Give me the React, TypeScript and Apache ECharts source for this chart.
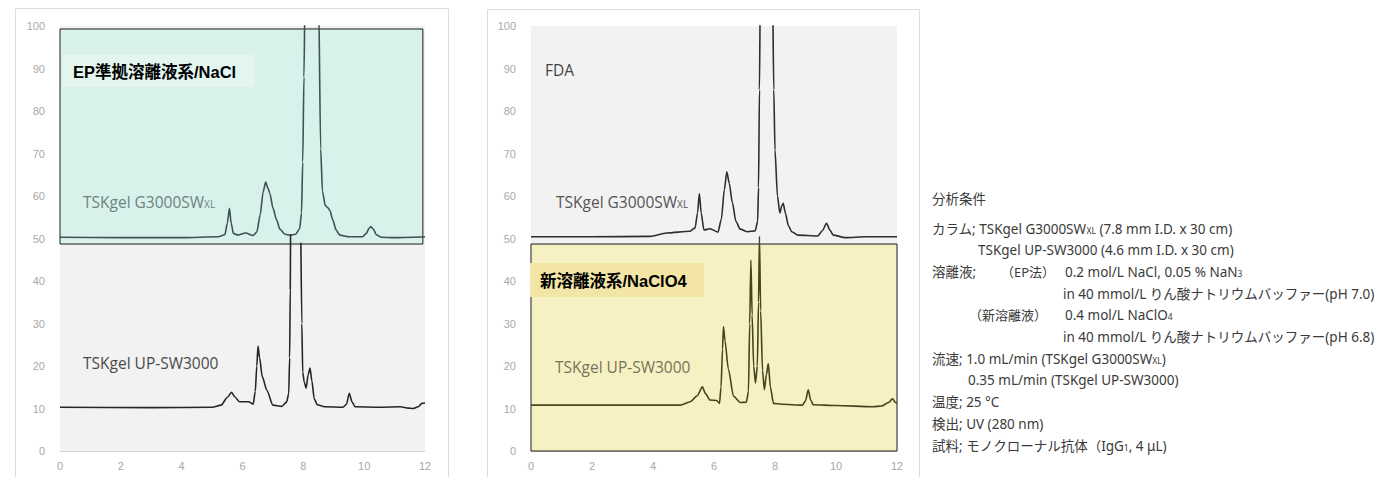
import React, { useEffect, useRef } from "react";
import * as echarts from "echarts";

// ---- axis settings ----
const X_MIN = 0;
const X_MAX = 12;
const X_STEP = 2;
const Y_MIN = 0;
const Y_MAX = 100;
const Y_STEP = 10;

// ---- chromatograms: [retention time (min), signal] ; "-" = break ----
// Left chart, EP eluent / NaCl, TSKgel G3000SWxL (offset trace)
const epG3000: any[] = [
  [0, 50.3], [2, 50.2], [4, 50.2], [5.2, 50.4], [5.42, 50.9], [5.5, 53.5], [5.57, 57.1],
  [5.63, 53.5], [5.7, 51.2], [5.85, 50.8], [6.1, 51.3], [6.35, 50.7], [6.47, 51.5],
  [6.58, 55.5], [6.68, 61], [6.76, 63.3], [6.84, 61.8], [6.9, 60.6], [7.0, 57.2],
  [7.12, 54.4], [7.23, 52.2], [7.4, 51.0], [7.56, 50.8], [7.75, 51.0], [7.88, 52.3],
  [7.94, 56], [7.98, 68], [8.02, 88], [8.06, 110], [8.12, 140], [8.4, 140], [8.5, 108],
  [8.57, 71], [8.63, 61], [8.72, 57.8], [8.8, 57.3], [8.88, 56.5], [8.96, 54.5],
  [9.08, 52], [9.2, 50.8], [9.5, 50.4], [9.95, 50.4], [10.07, 51.2], [10.16, 52.4],
  [10.22, 52.8], [10.3, 52.2], [10.4, 50.9], [10.55, 50.3], [11, 50.2], [11.6, 50.3], [12, 50.4],
];

// Left chart, EP eluent / NaCl, TSKgel UP-SW3000
const epUP: any[] = [
  [0, 10.3], [3, 10.2], [5.0, 10.3], [5.3, 10.8], [5.5, 12.6], [5.64, 13.8], [5.75, 12.7],
  [5.9, 11.6], [6.2, 11.6], [6.35, 11.0], [6.42, 14], [6.47, 20], [6.51, 24.7], [6.56, 22],
  [6.65, 17.5], [6.8, 14.3], [7.0, 10.8], [7.29, 10.5], [7.45, 11.5], [7.52, 13.5],
  [7.55, 22], [7.57, 38], [7.58, 51], [7.75, "-"], [7.92, 49], [7.95, 30], [7.98, 18.5],
  [8.03, 16.2], [8.09, 14.8], [8.16, 18], [8.22, 19.5], [8.28, 16.5], [8.36, 12.2],
  [8.46, 10.9], [8.7, 10.4], [9.3, 10.3], [9.42, 11], [9.51, 13.6], [9.6, 11.6],
  [9.7, 10.4], [10.5, 10.3], [11.2, 10.4], [11.45, 10.1], [11.6, 10.0], [11.78, 10.4],
  [11.9, 11.2], [12, 11.3],
];

// Right chart, FDA, TSKgel G3000SWxL (offset trace)
const fdaG3000: any[] = [
  [0, 50.4], [2, 50.4], [3.9, 50.5], [4.45, 51.3], [5.2, 51.7], [5.38, 52.5], [5.46, 56],
  [5.52, 60.6], [5.58, 56], [5.67, 52], [5.87, 52.3], [6.13, 51.5], [6.24, 54.5],
  [6.34, 61.5], [6.42, 65.7], [6.5, 63], [6.6, 58.5], [6.72, 54], [6.86, 52.2],
  [7.1, 51.6], [7.35, 51.8], [7.43, 54], [7.46, 62], [7.49, 85], [7.52, 110],
  [7.57, 140], [7.85, 140], [7.92, 108], [7.96, 85], [8.0, 70.8], [8.08, 60],
  [8.16, 56], [8.22, 57.6], [8.27, 58.3], [8.34, 56], [8.44, 53], [8.55, 51.6],
  [8.75, 50.8], [9.4, 50.6], [9.56, 51.9], [9.69, 53.6], [9.8, 52], [9.91, 50.8],
  [10.3, 50.2], [11, 50.4], [12, 50.4],
];

// Right chart, new eluent / NaClO4, TSKgel UP-SW3000
const newUP: any[] = [
  [0, 10.8], [3, 10.8], [4.89, 10.8], [5.22, 11.6], [5.45, 13], [5.62, 15.1], [5.72, 13.5],
  [5.87, 12], [6.09, 11.9], [6.18, 11.2], [6.23, 15], [6.28, 24], [6.31, 29.3], [6.36, 26],
  [6.47, 19.3], [6.64, 12.9], [6.86, 11.4], [7.06, 11.5], [7.13, 14], [7.17, 30],
  [7.21, 44.9], [7.25, 32], [7.3, 20], [7.36, 16], [7.42, 20], [7.46, 35], [7.49, 50.5],
  [7.53, 33], [7.59, 19], [7.65, 14.4], [7.72, 18], [7.78, 20.6], [7.85, 15], [7.95, 11.2],
  [8.22, 11], [8.9, 10.8], [9.0, 11.8], [9.09, 14.4], [9.17, 12], [9.25, 10.9],
  [10, 10.7], [11.21, 10.4], [11.5, 10.6], [11.72, 11.4], [11.85, 12.3], [11.95, 11.4], [12, 11.2],
];

// highlighted boxes: [[x0, y0], [x1, y1]]
const EP_BOX = [[0, 48.7], [11.93, 99.3]];
const NEW_BOX = [[0, 0], [12, 48.7]];

const AXIS_FONT = "'Liberation Sans', 'DejaVu Sans', sans-serif";
const LABEL_FONT = "'Open Sans', 'Liberation Sans', sans-serif";
const JP_FONT = "'Noto Sans', 'Noto Sans CJK JP', sans-serif";
const BOLD_FONT = "'Liberation Sans', 'Noto Sans CJK JP', sans-serif";
const JP_SIZE = 13.5;

function xAxisCfg(gridIndex: number) {
  return {
    type: "value",
    gridIndex,
    min: X_MIN,
    max: X_MAX,
    interval: X_STEP,
    axisLine: { show: true, lineStyle: { color: "#d6d6d6", width: 1 } },
    axisTick: { show: false },
    splitLine: { show: false },
    axisLabel: { color: "#a8a8a8", fontSize: 11, margin: 9, fontFamily: AXIS_FONT },
  };
}
function yAxisCfg(gridIndex: number) {
  return {
    type: "value",
    gridIndex,
    min: Y_MIN,
    max: Y_MAX,
    interval: Y_STEP,
    axisLine: { show: false },
    axisTick: { show: false },
    splitLine: { show: false },
    axisLabel: { color: "#a8a8a8", fontSize: 11, margin: 15, fontFamily: AXIS_FONT },
  };
}

function lineSeries(idx: number, data: any[], color: string, z: number, box?: any, boxColor?: string) {
  const s: any = {
    type: "line",
    xAxisIndex: idx,
    yAxisIndex: idx,
    data,
    symbol: "none",
    showSymbol: false,
    smooth: 0.25,
    smoothMonotone: "x",
    connectNulls: false,
    clip: true,
    z,
    lineStyle: { color, width: 1.6 },
    silent: true,
  };
  if (box) {
    s.markArea = {
      silent: true,
      itemStyle: { color: boxColor, borderColor: "#1c1c1c", borderWidth: 1 },
      data: [[{ coord: box[0] }, { coord: box[1] }]],
    };
  }
  return s;
}

function txt(x: number, y: number, text: string, extra: any = {}) {
  return {
    type: "text",
    x,
    y,
    z: 100,
    silent: true,
    style: {
      text,
      fill: "#3a3a3a",
      fontSize: JP_SIZE,
      fontFamily: JP_FONT,
      verticalAlign: "middle",
      align: "left",
      ...extra,
    },
  };
}

const SUB = { fontSize: 8.5, verticalAlign: "bottom", fill: "#3a3a3a", fontFamily: JP_FONT, padding: [0, 0, 1, 0] };
const NORM = { fontSize: JP_SIZE, fill: "#3a3a3a", fontFamily: JP_FONT, verticalAlign: "bottom" };
const richJP = { n: NORM, s: SUB };

export default function App() {
  const ref = useRef<HTMLDivElement>(null);
  useEffect(() => {
    if (!ref.current) return;
    const chart = echarts.init(ref.current, undefined, { renderer: "svg" });
    const L = 932;
    const lineY = (i: number) => 228.5 + i * 21.7;
    const chartLabelRich = (color: string) => ({
      n: { fontSize: 15.5, fill: color, fontFamily: LABEL_FONT, verticalAlign: "bottom" },
      s: { fontSize: 10, fill: color, fontFamily: LABEL_FONT, verticalAlign: "bottom", padding: [0, 0, 1, 0] },
    });
    const option: any = {
      animation: false,
      backgroundColor: "#ffffff",
      grid: [
        { left: 60, top: 26, width: 365, height: 425, show: true, backgroundColor: "#f2f2f2", borderWidth: 0 },
        { left: 531, top: 26, width: 366, height: 425, show: true, backgroundColor: "#f2f2f2", borderWidth: 0 },
      ],
      xAxis: [xAxisCfg(0), xAxisCfg(1)],
      yAxis: [yAxisCfg(0), yAxisCfg(1)],
      series: [
        lineSeries(0, epG3000, "#3e5250", 3, EP_BOX, "#d8f1ea"),
        lineSeries(0, epUP, "#262626", 4),
        lineSeries(1, newUP, "#45441f", 3, NEW_BOX, "#f6f1c3"),
        lineSeries(1, fdaG3000, "#2e2e2e", 4),
      ],
      graphic: [
        // outer frames
        { type: "rect", z: 0, silent: true, shape: { x: 15.5, y: 8.5, width: 433, height: 490 }, style: { fill: "none", stroke: "#dcdcdc", lineWidth: 1 } },
        { type: "rect", z: 0, silent: true, shape: { x: 487.5, y: 9.5, width: 432, height: 490 }, style: { fill: "none", stroke: "#dcdcdc", lineWidth: 1 } },
        // title boxes
        { type: "rect", z: 90, silent: true, shape: { x: 63, y: 55, width: 192, height: 32 }, style: { fill: "#e3f5ef" } },
        txt(73, 71.5, "EP準拠溶離液系/NaCl", { fontSize: 16.5, fontWeight: "bold", fill: "#000", fontFamily: BOLD_FONT }),
        { type: "rect", z: 90, silent: true, shape: { x: 530, y: 263, width: 174, height: 34 }, style: { fill: "#f2e5a5" } },
        txt(540, 281, "新溶離液系/NaClO4", { fontSize: 16.5, fontWeight: "bold", fill: "#000", fontFamily: BOLD_FONT }),
        // trace labels
        txt(545, 70, "FDA", { fontSize: 15.5, fill: "#444", fontFamily: LABEL_FONT }),
        txt(83, 202, "{n|TSKgel G3000SW}{s|XL}", { rich: chartLabelRich("#6d8380") }),
        txt(83, 363, "{n|TSKgel UP-SW3000}", { rich: chartLabelRich("#4a4a4a") }),
        txt(556, 202, "{n|TSKgel G3000SW}{s|XL}", { rich: chartLabelRich("#555555") }),
        txt(555, 367, "{n|TSKgel UP-SW3000}", { rich: chartLabelRich("#77735a") }),
        // analysis conditions
        txt(L, 199, "分析条件"),
        txt(L, lineY(0), "{n|カラム; TSKgel G3000SW}{s|XL}{n| (7.8 mm I.D. x 30 cm)}", { rich: richJP }),
        txt(978, lineY(1), "TSKgel UP-SW3000 (4.6 mm I.D. x 30 cm)"),
        txt(L, lineY(2), "溶離液;"),
        txt(1001, lineY(2), "（EP法）", { fontSize: 13 }),
        txt(1065, lineY(2), "{n|0.2 mol/L NaCl, 0.05 % NaN}{s|3}", { rich: richJP }),
        txt(1063, lineY(3), "in 40 mmol/L りん酸ナトリウムバッファー(pH 7.0)"),
        txt(969, lineY(4), "（新溶離液）", { fontSize: 13 }),
        txt(1065, lineY(4), "{n|0.4 mol/L NaClO}{s|4}", { rich: richJP }),
        txt(1063, lineY(5), "in 40 mmol/L りん酸ナトリウムバッファー(pH 6.8)"),
        txt(L, lineY(6), "{n|流速; 1.0 mL/min (TSKgel G3000SW}{s|XL}{n|)}", { rich: richJP }),
        txt(968, lineY(7), "0.35 mL/min (TSKgel UP-SW3000)"),
        txt(L, lineY(8), "温度; 25 °C"),
        txt(L, lineY(9), "検出; UV (280 nm)"),
        txt(L, lineY(10), "{n|試料; モノクローナル抗体（IgG}{s|1}{n|, 4 μL)}", { rich: richJP }),
      ],
    };
    chart.setOption(option);
    return () => chart.dispose();
  }, []);
  return (
    <div
      ref={ref}
      style={{ position: "absolute", left: 0, top: 0, width: 1379, height: 477, background: "#fff" }}
    />
  );
}
